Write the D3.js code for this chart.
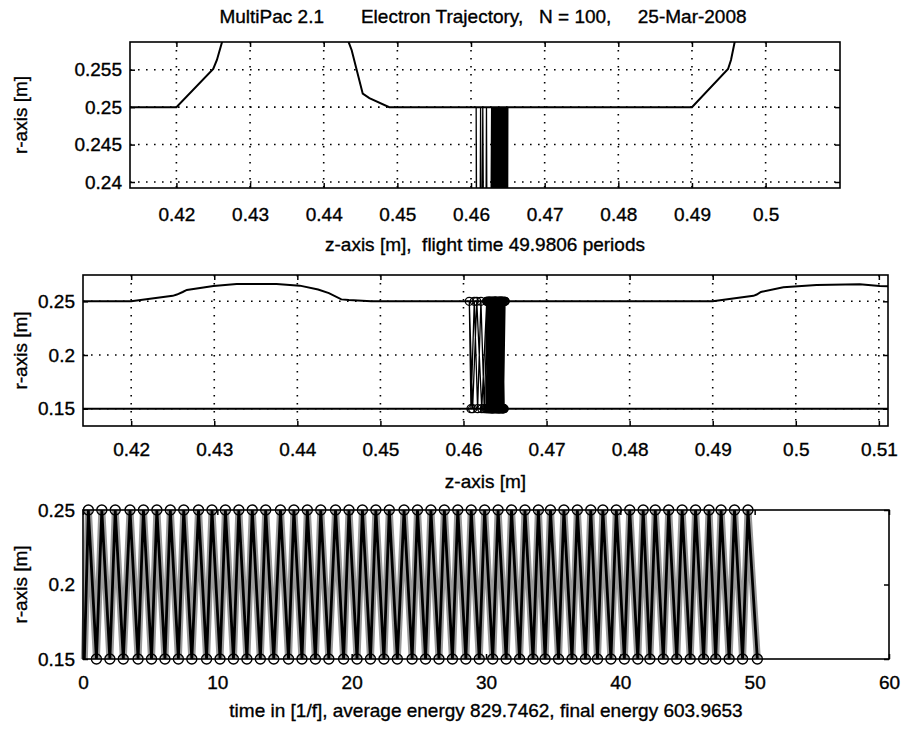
<!DOCTYPE html>
<html>
<head>
<meta charset="utf-8">
<script src="https://cdn.jsdelivr.net/npm/d3@7"></script>
<style>
  body { margin: 0; background: #fff; }
  svg { font-family: "Liberation Sans", Arial, sans-serif; }
  text { stroke: #000; stroke-width: 0.35px; fill: #000; }
</style>
</head>
<body>
<script>
// Chart size
var width = 904;
var height = 729;

// Cavity wall profile (outer conductor), z and r in metres
var wallZ = [0.4137, 0.4200, 0.4250, 0.4255, 0.4262, 0.4267, 0.4299, 0.4327, 0.4375, 0.4403, 0.4425, 0.4438,
             0.4453, 0.4462, 0.4489, 0.4900, 0.4949, 0.4953, 0.4958, 0.4985, 0.5025, 0.5077, 0.5101, 0.5111];
var wallR = [0.2500, 0.2500, 0.2551, 0.2563, 0.2587, 0.2606, 0.2643, 0.2661, 0.2661, 0.2646, 0.2610, 0.2576,
             0.2518, 0.2512, 0.2500, 0.2500, 0.2551, 0.2563, 0.2587, 0.2630, 0.2652, 0.2658, 0.2643, 0.2640];

// Inner conductor
var innerZ = [0.4137, 0.5111];
var innerR = [0.15, 0.15];

// Electron start point
var startT = 0.1, startZ = 0.4640, startR = 0.15;

// Impacts on outer wall (r = 0.25): time [1/f] and z [m]
var topHitT = [0.4, 1.4, 2.4, 3.5, 4.5, 5.5, 6.5, 7.5, 8.6, 9.6,
               10.6, 11.6, 12.6, 13.6, 14.7, 15.7, 16.7, 17.7, 18.8, 19.8,
               20.8, 21.8, 22.8, 23.9, 24.9, 25.9, 26.9, 27.9, 28.9, 29.9,
               30.9, 31.9, 32.9, 33.9, 34.8, 35.8, 36.8, 37.8, 38.7, 39.7,
               40.7, 41.7, 42.6, 43.6, 44.6, 45.6, 46.6, 47.5, 48.5, 49.5];
var topHitZ = [0.4642, 0.4647, 0.4640, 0.4634, 0.4639, 0.4646, 0.4647, 0.4638, 0.4629, 0.4621,
               0.4613, 0.4607, 0.4616, 0.4628, 0.4635, 0.4641, 0.4646, 0.4650, 0.4644, 0.4637,
               0.4631, 0.4632, 0.4638, 0.4643, 0.4648, 0.4643, 0.4636, 0.4630, 0.4630, 0.4637,
               0.4644, 0.4649, 0.4642, 0.4635, 0.4628, 0.4634, 0.4640, 0.4646, 0.4645, 0.4638,
               0.4632, 0.4633, 0.4639, 0.4645, 0.4650, 0.4644, 0.4637, 0.4631, 0.4631, 0.4639];

// Impacts on inner conductor (r = 0.15)
var botHitT = [1.0, 2.0, 3.0, 4.1, 5.1, 6.1, 7.1, 8.1, 9.2, 10.2,
               11.2, 12.2, 13.2, 14.2, 15.3, 16.3, 17.3, 18.3, 19.4, 20.4,
               21.4, 22.4, 23.4, 24.5, 25.5, 26.5, 27.5, 28.5, 29.5, 30.5,
               31.5, 32.5, 33.5, 34.4, 35.4, 36.4, 37.4, 38.3, 39.3, 40.3,
               41.3, 42.2, 43.2, 44.2, 45.2, 46.2, 47.1, 48.1, 49.1, 50.2];
var botHitZ = [0.4645, 0.4644, 0.4637, 0.4636, 0.4643, 0.4649, 0.4643, 0.4633, 0.4625, 0.4617,
               0.4609, 0.4611, 0.4622, 0.4632, 0.4638, 0.4644, 0.4648, 0.4647, 0.4641, 0.4634,
               0.4629, 0.4635, 0.4640, 0.4645, 0.4646, 0.4639, 0.4633, 0.4627, 0.4634, 0.4641,
               0.4647, 0.4646, 0.4639, 0.4631, 0.4631, 0.4637, 0.4643, 0.4648, 0.4642, 0.4635,
               0.4630, 0.4636, 0.4642, 0.4648, 0.4647, 0.4640, 0.4634, 0.4628, 0.4635, 0.4642];

// Tick values and labels
var zTicksTop = [0.42, 0.43, 0.44, 0.45, 0.46, 0.47, 0.48, 0.49, 0.5];
var rTicksTop = [0.24, 0.245, 0.25, 0.255];
var zTicksMid = [0.42, 0.43, 0.44, 0.45, 0.46, 0.47, 0.48, 0.49, 0.5, 0.51];
var rTicksMid = [0.15, 0.2, 0.25];
var tTicks = [0, 10, 20, 30, 40, 50, 60];
var rTicksBot = [0.15, 0.2, 0.25];

var titleText = "MultiPac 2.1       Electron Trajectory,   N = 100,     25-Mar-2008";
var xLabelTop = "z-axis [m],  flight time 49.9806 periods";
var xLabelMid = "z-axis [m]";
var xLabelBot = "time in [1/f], average energy 829.7462, final energy 603.9653";
var yLabel = "r-axis [m]";

// Build the ordered list of trajectory points (start, then alternating hits)
var traj = [{t: startT, z: startZ, r: startR}];
var hits = [];
for (var i = 0; i < topHitT.length; i++) {
    var a = {t: topHitT[i], z: topHitZ[i], r: 0.25};
    var b = {t: botHitT[i], z: botHitZ[i], r: 0.15};
    traj.push(a); traj.push(b);
    hits.push(a); hits.push(b);
}
var wall = wallZ.map(function(z, i) { return {z: z, r: wallR[i]}; });
var inner = innerZ.map(function(z, i) { return {z: z, r: innerR[i]}; });

var svg = d3.select("body").append("svg")
    .attr("width", width)
    .attr("height", height);

// Title
svg.append("text")
    .attr("x", 483).attr("y", 23)
    .attr("text-anchor", "middle")
    .style("font-size", "19px")
    .style("white-space", "pre")
    .text(titleText);

// Draws one MATLAB-style axes box with inward ticks on all sides
function makePanel(o) {
    var x = d3.scaleLinear().domain(o.xDomain).range([o.left, o.right]);
    var y = d3.scaleLinear().domain(o.yDomain).range([o.bottom, o.top]);
    var g = svg.append("g");

    var clipId = "clip" + o.id;
    svg.append("clipPath").attr("id", clipId)
        .append("rect")
        .attr("x", o.left).attr("y", o.top)
        .attr("width", o.right - o.left).attr("height", o.bottom - o.top);

    // dotted grid
    if (o.grid) {
        g.selectAll(".gx").data(o.xTicks).enter().append("line")
            .attr("x1", function(d) { return x(d); }).attr("x2", function(d) { return x(d); })
            .attr("y1", o.top).attr("y2", o.bottom)
            .attr("stroke", "#000").attr("stroke-width", 1.6)
            .attr("stroke-dasharray", "1.6,6.4");
        g.selectAll(".gy").data(o.yTicks).enter().append("line")
            .attr("x1", o.left).attr("x2", o.right)
            .attr("y1", function(d) { return y(d); }).attr("y2", function(d) { return y(d); })
            .attr("stroke", "#000").attr("stroke-width", 1.6)
            .attr("stroke-dasharray", "1.6,6.4");
    }

    var fmt = function(d) { return String(d); };
    var ax = g.append("g").attr("transform", "translate(0," + o.bottom + ")")
        .call(d3.axisBottom(x).tickValues(o.xTicks).tickFormat(fmt).tickSizeInner(-5).tickSizeOuter(0).tickPadding(o.xPad));
    var axT = g.append("g").attr("transform", "translate(0," + o.top + ")")
        .call(d3.axisTop(x).tickValues(o.xTicks).tickFormat("").tickSizeInner(-5).tickSizeOuter(0));
    var ay = g.append("g").attr("transform", "translate(" + o.left + ",0)")
        .call(d3.axisLeft(y).tickValues(o.yTicks).tickFormat(fmt).tickSizeInner(-5).tickSizeOuter(0).tickPadding(8));
    var ayR = g.append("g").attr("transform", "translate(" + o.right + ",0)")
        .call(d3.axisRight(y).tickValues(o.yTicks).tickFormat("").tickSizeInner(-5).tickSizeOuter(0));
    [ax, axT, ay, ayR].forEach(function(a) {
        a.select(".domain").remove();
        a.selectAll("line").attr("stroke", "#000").attr("stroke-width", 1.5);
        a.selectAll("text").style("font-size", "19px").attr("fill", "#000").style("font-family", null);
    });

    var plot = svg.append("g").attr("clip-path", "url(#" + clipId + ")");

    // box
    svg.append("rect")
        .attr("x", o.left).attr("y", o.top)
        .attr("width", o.right - o.left).attr("height", o.bottom - o.top)
        .attr("fill", "none").attr("stroke", "#000").attr("stroke-width", 1.6);

    // axis labels
    svg.append("text")
        .attr("x", (o.left + o.right) / 2).attr("y", o.xLabelY)
        .attr("text-anchor", "middle")
        .style("font-size", "19px")
        .style("white-space", "pre")
        .text(o.xLabel);
    svg.append("text")
        .attr("transform", "translate(27," + ((o.top + o.bottom) / 2) + ") rotate(-90)")
        .attr("text-anchor", "middle")
        .style("font-size", "19px")
        .text(yLabel);

    return {x: x, y: y, plot: plot};
}

// ---- top panel: zoom on the impact region ----
var p1 = makePanel({
    id: 1, left: 130, right: 840, top: 42, bottom: 188,
    xDomain: [0.4137, 0.5101], yDomain: [0.2392, 0.2587],
    xTicks: zTicksTop, yTicks: rTicksTop, grid: true, xPad: 20,
    xLabel: xLabelTop, xLabelY: 251
});
var line1 = d3.line().x(function(d) { return p1.x(d.z); }).y(function(d) { return p1.y(d.r); });
p1.plot.append("path").datum(traj).attr("d", line1)
    .attr("fill", "none").attr("stroke", "#000").attr("stroke-width", 1.3);
p1.plot.append("path").datum(wall).attr("d", line1)
    .attr("fill", "none").attr("stroke", "#000").attr("stroke-width", 2);

// ---- middle panel: whole gap ----
var p2 = makePanel({
    id: 2, left: 83, right: 888, top: 275, bottom: 426,
    xDomain: [0.4142, 0.5111], yDomain: [0.1339, 0.2745],
    xTicks: zTicksMid, yTicks: rTicksMid, grid: true, xPad: 17,
    xLabel: xLabelMid, xLabelY: 488
});
var line2 = d3.line().x(function(d) { return p2.x(d.z); }).y(function(d) { return p2.y(d.r); });
p2.plot.append("path").datum(wall).attr("d", line2)
    .attr("fill", "none").attr("stroke", "#000").attr("stroke-width", 2);
p2.plot.append("path").datum(inner).attr("d", line2)
    .attr("fill", "none").attr("stroke", "#000").attr("stroke-width", 2);
p2.plot.append("path").datum(traj).attr("d", line2)
    .attr("fill", "none").attr("stroke", "#000").attr("stroke-width", 1.3);
p2.plot.selectAll("circle").data(hits).enter().append("circle")
    .attr("cx", function(d) { return p2.x(d.z); })
    .attr("cy", function(d) { return p2.y(d.r); })
    .attr("r", 4)
    .attr("fill", "none").attr("stroke", "#000").attr("stroke-width", 1.3);

// ---- bottom panel: r versus time ----
var p3 = makePanel({
    id: 3, left: 83, right: 889, top: 510, bottom: 659,
    xDomain: [0, 60], yDomain: [0.15, 0.25],
    xTicks: tTicks, yTicks: rTicksBot, grid: false, xPad: 17,
    xLabel: xLabelBot, xLabelY: 717
});
p3.plot.attr("clip-path", null);
var line3 = d3.line().x(function(d) { return p3.x(d.t); }).y(function(d) { return p3.y(d.r); });
p3.plot.append("path").datum(traj).attr("d", line3)
    .attr("fill", "none").attr("stroke", "#9a9a9a").attr("stroke-width", 7);
p3.plot.append("path").datum(traj).attr("d", line3)
    .attr("fill", "none").attr("stroke", "#000").attr("stroke-width", 2.8);
p3.plot.selectAll("circle").data(hits).enter().append("circle")
    .attr("cx", function(d) { return p3.x(d.t); })
    .attr("cy", function(d) { return p3.y(d.r); })
    .attr("r", 5)
    .attr("fill", "none").attr("stroke", "#000").attr("stroke-width", 1.4);
</script>
</body>
</html>
